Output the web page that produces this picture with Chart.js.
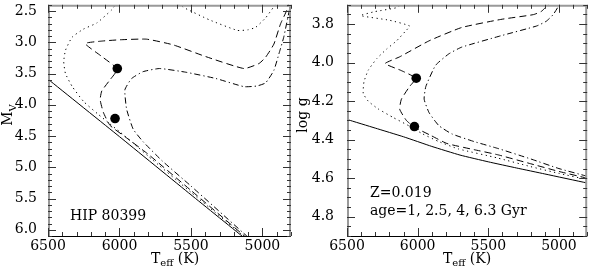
<!DOCTYPE html>
<html><head><meta charset="utf-8">
<script src="https://cdn.jsdelivr.net/npm/chart.js@4.4.0/dist/chart.umd.min.js"></script>
<style>
html,body{margin:0;padding:0;background:#fff;}
#wrap{position:relative;width:592px;height:276px;overflow:hidden;}
.pane{position:absolute;top:0;width:296px;height:276px;}
</style></head><body>
<div id="wrap">
<div class="pane" style="left:0"><canvas id="c1" width="296" height="276"></canvas></div>
<div class="pane" style="left:296px"><canvas id="c2" width="296" height="276"></canvas></div>
</div>
<script>
// ---------- data (Teff [K], M_V) left panel ----------
const ages = ['1 Gyr', '2.5 Gyr', '4 Gyr', '6.3 Gyr'];
const tempTicks = [6500, 6000, 5500, 5000];
const mvTicks = [2.5, 3.0, 3.5, 4.0, 4.5, 5.0, 5.5, 6.0];
const loggTicks = [3.8, 4.0, 4.2, 4.4, 4.6, 4.8];

const mvIso1 = [[6500,3.59],[6000,4.51],[5500,5.44],[5100,6.18]];
const mvIso25 = [[5100,6.16],[5500,5.40],[5800,4.82],[5900,4.62],[6000,4.43],[6070,4.30],[6150,4.15],[6250,3.95],[6330,3.71],[6378,3.50],[6390,3.31],[6378,3.13],[6332,2.92],[6253,2.79],[6158,2.69],[6054,2.48],[6020,2.38],[5800,2.20],[5590,2.38],[5545,2.45],[5372,2.64],[5175,2.81],[5100,2.80],[5047,2.76],[4978,2.61],[4920,2.43],[4890,2.33]];
const mvIso4 = [[5100,6.15],[5500,5.37],[5800,4.79],[5950,4.53],[6066,4.33],[6113,4.12],[6135,3.92],[6124,3.78],[6066,3.60],[6015,3.43],[6128,3.22],[6240,3.02],[6120,2.98],[5997,2.96],[5811,2.95],[5626,3.04],[5395,3.23],[5129,3.42],[5024,3.34],[4978,3.24],[4920,3.03],[4874,2.71],[4828,2.48],[4815,2.35]];
const mvIso63 = [[5100,6.12],[5500,5.30],[5700,4.90],[5835,4.59],[5904,4.39],[5950,4.07],[5962,3.76],[5915,3.58],[5835,3.47],[5719,3.42],[5533,3.48],[5325,3.58],[5129,3.71],[5040,3.70],[4978,3.65],[4920,3.45],[4880,3.15],[4851,2.92],[4804,2.40]];
const mvStar = [[6015,3.42],[6031,4.22]];

// ---------- data (Teff [K], log g) right panel ----------
const lgIso1 = [[6500,4.295],[6300,4.34],[6100,4.385],[5900,4.435],[5700,4.48],[5500,4.515],[5300,4.547],[5100,4.578],[4800,4.625]];
const lgIso25 = [[4800,4.607],[5000,4.575],[5200,4.54],[5435,4.495],[5712,4.448],[5850,4.41],[5965,4.37],[6057,4.33],[6173,4.285],[6280,4.24],[6350,4.20],[6385,4.16],[6380,4.10],[6350,4.04],[6290,3.98],[6220,3.93],[6149,3.887],[6090,3.84],[6057,3.81],[6200,3.78],[6403,3.756],[6300,3.735],[6150,3.715],[6100,3.69]];
const lgIso4 = [[4800,4.60],[5000,4.565],[5200,4.525],[5435,4.478],[5600,4.452],[5792,4.42],[5907,4.378],[6023,4.335],[6080,4.30],[6127,4.242],[6115,4.19],[6057,4.124],[6012,4.081],[6120,4.04],[6230,4.005],[6127,3.97],[5919,3.887],[5689,3.818],[5412,3.776],[5181,3.751],[5124,3.734],[5077,3.70],[5050,3.68]];
const lgIso63 = [[4800,4.59],[5000,4.55],[5200,4.50],[5435,4.445],[5600,4.41],[5758,4.37],[5850,4.327],[5919,4.26],[5954,4.19],[5942,4.124],[5873,4.014],[5780,3.955],[5689,3.92],[5412,3.861],[5158,3.81],[5089,3.785],[5040,3.75],[4997,3.70],[4980,3.68]];
const lgStar = [[6010,4.081],[6023,4.332]];

const FONT = 'DejaVu Serif';
const pts = a => a.map(([x, y]) => ({x, y}));
const styles = [[], [1.2, 3.5], [7, 4], [6, 3, 1.2, 3]];

function isoSets(isos, star) {
  const ds = isos.map((iso, i) => ({
    label: ages[i], data: pts(iso), showLine: true, pointRadius: 0,
    borderColor: '#000', borderWidth: 1, borderDash: styles[i], tension: 0.15, fill: false
  }));
  ds.push({label: 'star', data: pts(star), showLine: false, pointRadius: 4.8,
    backgroundColor: '#000', borderColor: '#000', borderWidth: 0});
  return ds;
}

const frameTicks = {
  id: 'frameTicks',
  afterDraw(chart, args, o) {
    const {ctx, chartArea: a} = chart;
    const x = chart.scales.x, y = chart.scales.y;
    ctx.save();
    ctx.setLineDash([]);
    // frame
    ctx.strokeStyle = '#999'; ctx.lineWidth = 2;
    ctx.beginPath();
    ctx.moveTo(a.left + 1, a.bottom); ctx.lineTo(a.left + 1, a.top + 1);
    ctx.lineTo(a.right - 1, a.top + 1); ctx.lineTo(a.right - 1, a.bottom);
    ctx.stroke();
    ctx.strokeStyle = '#000'; ctx.lineWidth = 1;
    ctx.beginPath(); ctx.moveTo(a.left, a.bottom + 0.5); ctx.lineTo(a.right, a.bottom + 0.5); ctx.stroke();

    // tick marks
    ctx.strokeStyle = '#333'; ctx.lineWidth = 1;
    const seg = (x1, y1, x2, y2) => { ctx.beginPath(); ctx.moveTo(x1, y1); ctx.lineTo(x2, y2); ctx.stroke(); };
    for (let v = 4800; v <= 6500; v += 100) {
      const len = v % 500 === 0 ? 8 : 4;
      const px = Math.round(x.getPixelForValue(v)) + 0.5;
      seg(px, a.bottom, px, a.bottom - len);
      seg(px, a.top, px, a.top + len);
    }
    const n = Math.round((o.yMax - o.yMin) / o.yMinor);
    for (let i = 0; i <= n; i++) {
      const v = o.yMin + i * o.yMinor;
      const isMaj = Math.abs(v / o.yMajor - Math.round(v / o.yMajor)) < 1e-6;
      const len = isMaj ? 8 : 4;
      const py = Math.round(y.getPixelForValue(v)) + 0.5;
      seg(a.left, py, a.left + len, py);
      seg(a.right, py, a.right - len, py);
    }

    // x title T_eff (K)
    ctx.fillStyle = '#000';
    ctx.textBaseline = 'alphabetic';
    ctx.textAlign = 'left';
    const f1 = '14px "' + FONT + '"', f2 = '10px "' + FONT + '"';
    ctx.font = f1; const wT = ctx.measureText('T').width;
    const wK = ctx.measureText(' (K)').width;
    ctx.font = f2; const wE = ctx.measureText('eff').width;
    let sx = o.xTitleX - (wT + wE + wK) / 2;
    const by = 262.5;
    ctx.font = f1; ctx.fillText('T', sx, by);
    ctx.font = f2; ctx.fillText('eff', sx + wT, by + 3.5);
    ctx.font = f1; ctx.fillText(' (K)', sx + wT + wE, by);

    // y title
    ctx.save();
    ctx.translate(o.yTitleX, 115);
    ctx.rotate(-Math.PI / 2);
    if (o.yTitle === 'Mv') {
      ctx.font = f1; const wM = ctx.measureText('M').width;
      ctx.font = f2; const wV = ctx.measureText('V').width;
      const s = -(wM + wV) / 2;
      ctx.font = f1; ctx.fillText('M', s, 0);
      ctx.font = f2; ctx.fillText('V', s + wM, 3.5);
    } else {
      ctx.font = f1; ctx.textAlign = 'center'; ctx.fillText('log g', 0, 0);
    }
    ctx.restore();

    // annotations
    ctx.font = f1; ctx.textAlign = 'left';
    o.notes.forEach(([t, nx, ny]) => ctx.fillText(t, nx, ny));
    ctx.restore();
  }
};

function makeChart(id, datasets, yMin, yMax, yTicks, yMinor, yMajor, yW, padRight, extra) {
  return new Chart(document.getElementById(id), {
    type: 'scatter',
    data: {datasets},
    options: {
      responsive: false, animation: false, events: [],
      layout: {padding: {top: 1, right: padRight, left: 0, bottom: 0}},
      plugins: {legend: {display: false}, tooltip: {enabled: false},
        frameTicks: Object.assign({yMin, yMax, yMinor, yMajor}, extra)},
      scales: {
        x: {type: 'linear', min: 4800, max: 6500, reverse: true,
          afterBuildTicks: s => { s.ticks = tempTicks.map(v => ({value: v})); },
          afterFit: s => { s.height = 40; s.paddingLeft = 0; s.paddingRight = 0; },
          grid: {display: false}, border: {display: false},
          ticks: {color: '#000', font: {family: FONT, size: 14}, padding: -6, maxRotation: 0, autoSkip: false,
            callback: v => String(v)}},
        y: {type: 'linear', min: yMin, max: yMax, reverse: true,
          afterBuildTicks: s => { s.ticks = yTicks.map(v => ({value: v})); },
          afterFit: s => { s.width = yW; s.paddingTop = 0; s.paddingBottom = 0; },
          grid: {display: false}, border: {display: false},
          ticks: {color: '#000', font: {family: FONT, size: 14}, padding: extra.yPad, autoSkip: false,
            callback: v => Number(v).toFixed(1)}}
      }
    },
    plugins: [frameTicks]
  });
}

makeChart('c1', isoSets([mvIso1, mvIso25, mvIso4, mvIso63], mvStar), 2.4, 6.1, mvTicks, 0.1, 0.5, 48, 5,
  {yPad: 3, xTitleX: 175, yTitleX: 12, yTitle: 'Mv', notes: [['HIP 80399', 70, 219.5]]});
makeChart('c2', isoSets([lgIso1, lgIso25, lgIso4, lgIso63], lgStar), 3.7, 4.9, loggTicks, 0.05, 0.2, 51, 0,
  {yPad: 5, xTitleX: 171, yTitleX: 11, yTitle: 'logg',
   notes: [['Z=0.019', 74, 197], ['age=1, 2.5, 4, 6.3 Gyr', 74, 214.5]]});
</script>
</body></html>
